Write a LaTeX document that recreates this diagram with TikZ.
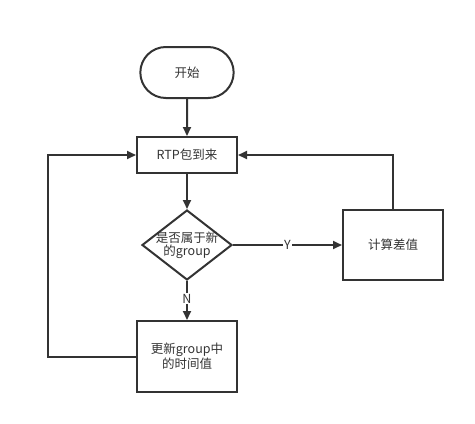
\documentclass[tikz,border=0pt]{standalone}
\usepackage{fontspec}
\setmainfont{Noto Sans CJK SC}
\usetikzlibrary{shapes.geometric,shapes.misc,arrows.meta}
\definecolor{linegray}{HTML}{333333}

\begin{document}
\begin{tikzpicture}[x = 1pt, y = -1pt, line width = 2pt, draw = linegray,
                        font = \fontsize{12.5}{15}\selectfont, text = linegray,
                        terminal/.style = {rounded rectangle, draw, minimum width = 100pt, minimum height = 51pt},
                        process/.style = {rectangle, draw, minimum width = 100pt, align = center},
                        decision/.style = {diamond, draw, aspect = 1.29, minimum width = 90pt, minimum height = 70pt, inner sep = -4pt, align = center},
                        flow/.style = {-{Triangle[length = 9pt, width = 8pt]}}]
      \useasboundingbox (0, 0) rectangle (475, 424);
      \node [terminal] (start) at (187, 72.5){开始};
      \node [process, minimum height = 36pt] (rtp) at (187, 155){RTP包到来};
      \node [decision] (isnew) at (187, 245){是否属于新\\[-2pt]的group};
      \node [process, minimum height = 70pt] (diff) at (393, 245){计算差值};
      \node [process, minimum height = 71pt] (update) at (187, 356.5){更新group中\\的时间值};
      \coordinate (lcorner) at (48, 356.5);
      \coordinate (rcorner) at (393, 155);

      \draw [flow] (start) -- (rtp);
      \draw [flow] (rtp) -- (isnew);
      \draw [flow] (isnew) -- node [fill = white, inner sep = 1pt] {Y} (diff);
      \draw [flow] (isnew) -- node [fill = white, inner sep = 1pt, pos = 0.45] {N} (update);
      \draw [flow] (update.west) -- (lcorner) |- (rtp.west);
      \draw [flow] (diff.north) -- (rcorner) -- (rtp.east);
      \end{tikzpicture}
\end{document}
